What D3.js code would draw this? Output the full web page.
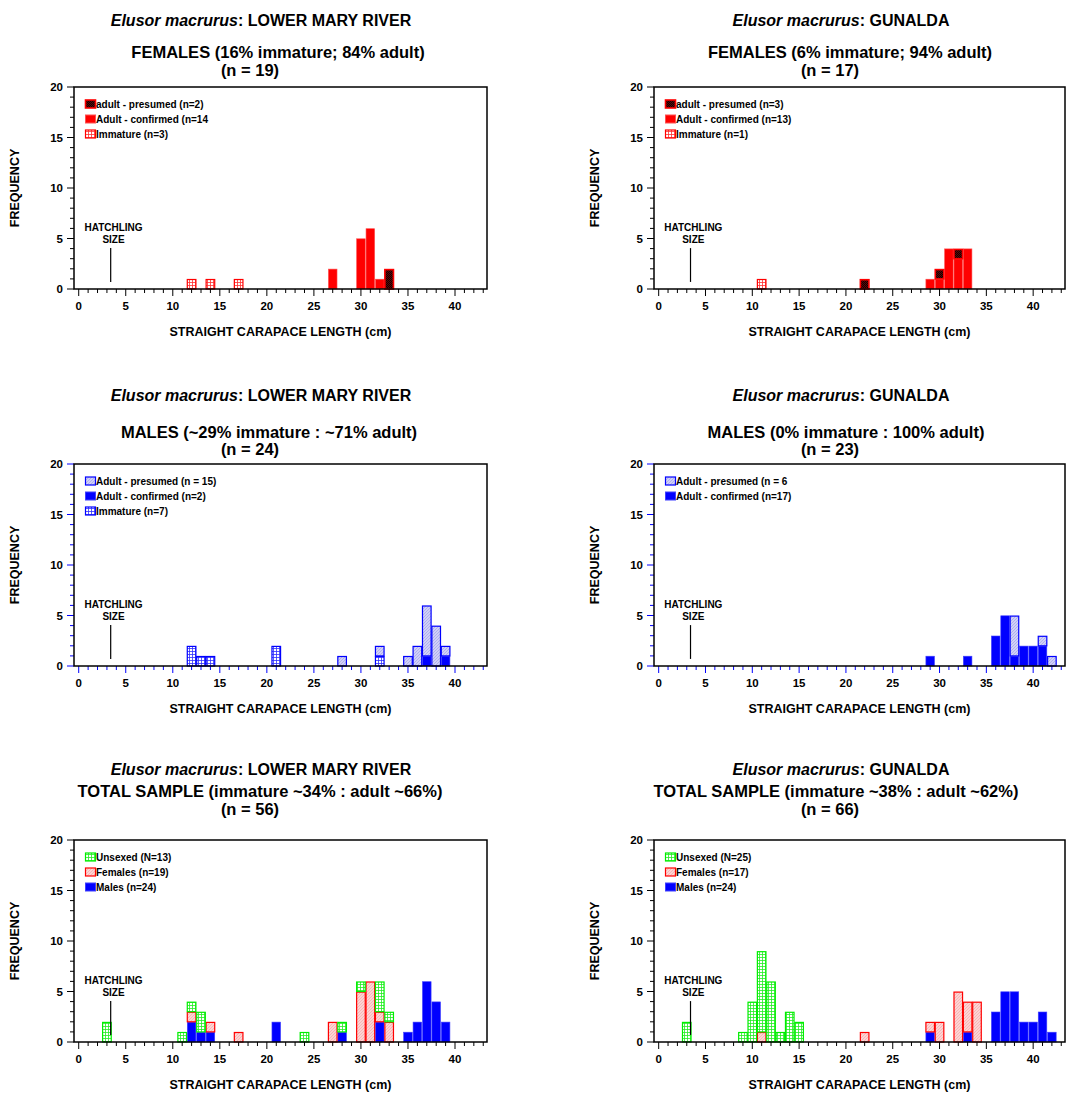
<!DOCTYPE HTML>
<html>
  <head>
    <title>Elusor macrurus size frequency</title>
    <style>
      body { margin: 0; background: #fff; }
      text { font-family: Arial, 'Liberation Sans', sans-serif; font-weight: bold; fill: #000; }
    </style>
  </head>
  <body>
    <script src="https://cdn.jsdelivr.net/npm/d3@7"></script>
    <script>
      // ---- data: [length (cm), count] ----
      var lmrFemImm  = [[12,1],[14,1],[17,1]];
      var lmrFemConf = [[27,2],[30,5],[31,6],[32,1]];
      var lmrFemPres = [[33,2]];

      var gunFemImm  = [[11,1]];
      var gunFemConf = [[29,1],[30,1],[31,4],[32,3],[33,4]];
      var gunFemPres = [[22,1],[30,1],[32,1]];

      var lmrMaleImm  = [[12,2],[13,1],[14,1],[21,2],[32,1]];
      var lmrMaleConf = [[37,1],[39,1]];
      var lmrMalePres = [[28,1],[32,1],[35,1],[36,2],[37,5],[38,4],[39,1]];

      var gunMaleConf = [[29,1],[33,1],[36,3],[37,5],[38,1],[39,2],[40,2],[41,2]];
      var gunMalePres = [[38,4],[41,1],[42,1]];

      var lmrTotMales   = [[12,2],[13,1],[14,1],[21,2],[28,1],[32,2],[35,1],[36,2],[37,6],[38,4],[39,2]];
      var lmrTotFemales = [[12,1],[14,1],[17,1],[27,2],[30,5],[31,6],[32,1],[33,2]];
      var lmrTotUnsexed = [[3,2],[11,1],[12,1],[13,2],[24,1],[28,1],[30,1],[32,3],[33,1]];

      var gunTotMales   = [[29,1],[33,1],[36,3],[37,5],[38,5],[39,2],[40,2],[41,3],[42,1]];
      var gunTotFemales = [[11,1],[22,1],[29,1],[30,2],[32,5],[33,3],[34,4]];
      var gunTotUnsexed = [[3,2],[9,1],[10,4],[11,8],[12,6],[13,1],[14,3],[15,2]];

      var xTicks = d3.range(0, 44);
      var xMajor = [0, 5, 10, 15, 20, 25, 30, 35, 40];
      var yTicks = d3.range(0, 21);
      var yMajor = [0, 5, 10, 15, 20];
      var hatchlingSize = 3.4;

      // ---- layout ----
      var width = 1067, height = 1093;
      var cols = [{x0: 74, x1: 487}, {x0: 654, x1: 1065}];
      var rows = [
        {top: 87,  bottom: 289, title: 26,  sub: 58,  n: 76},
        {top: 464, bottom: 666, title: 401, sub: 438, n: 455},
        {top: 840, bottom: 1042, title: 775, sub: 797, n: 815}
      ];

      var panels = [
        {col: 0, row: 0, site: 'LOWER MARY RIVER', sub: 'FEMALES (16% immature; 84% adult)', subCx: 278, n: '(n = 19)', tick: '#000',
          series: [
            {data: lmrFemImm,  style: 'immF',  label: 'Immature (n=3)'},
            {data: lmrFemConf, style: 'confF', label: 'Adult - confirmed (n=14'},
            {data: lmrFemPres, style: 'presF', label: 'adult - presumed (n=2)'}]},
        {col: 1, row: 0, site: 'GUNALDA', sub: 'FEMALES (6% immature; 94% adult)', subCx: 850, n: '(n = 17)', tick: '#000',
          series: [
            {data: gunFemImm,  style: 'immF',  label: 'Immature (n=1)'},
            {data: gunFemConf, style: 'confF', label: 'Adult - confirmed (n=13)'},
            {data: gunFemPres, style: 'presF', label: 'adult - presumed (n=3)'}]},
        {col: 0, row: 1, site: 'LOWER MARY RIVER', sub: 'MALES (~29% immature : ~71% adult)', subCx: 269, n: '(n = 24)', tick: '#0000ff',
          series: [
            {data: lmrMaleImm,  style: 'immM',  label: 'Immature (n=7)'},
            {data: lmrMaleConf, style: 'confM', label: 'Adult - confirmed (n=2)'},
            {data: lmrMalePres, style: 'presM', label: 'Adult - presumed (n = 15)'}]},
        {col: 1, row: 1, site: 'GUNALDA', sub: 'MALES (0% immature : 100% adult)', subCx: 846, n: '(n = 23)', tick: '#0000ff',
          series: [
            {data: gunMaleConf, style: 'confM', label: 'Adult - confirmed (n=17)'},
            {data: gunMalePres, style: 'presM', label: 'Adult - presumed (n = 6'}]},
        {col: 0, row: 2, site: 'LOWER MARY RIVER', sub: 'TOTAL SAMPLE (immature ~34% : adult ~66%)', subCx: 260, n: '(n = 56)', tick: '#000',
          series: [
            {data: lmrTotMales,   style: 'confM', label: 'Males (n=24)'},
            {data: lmrTotFemales, style: 'femT',  label: 'Females (n=19)'},
            {data: lmrTotUnsexed, style: 'unsex', label: 'Unsexed (N=13)'}]},
        {col: 1, row: 2, site: 'GUNALDA', sub: 'TOTAL SAMPLE (immature ~38% : adult ~62%)', subCx: 836, n: '(n = 66)', tick: '#000',
          series: [
            {data: gunTotMales,   style: 'confM', label: 'Males (n=24)'},
            {data: gunTotFemales, style: 'femT',  label: 'Females (n=17)'},
            {data: gunTotUnsexed, style: 'unsex', label: 'Unsexed (N=25)'}]}
      ];

      var styles = {
        immF:  {fill: 'url(#gridRed)',   stroke: '#ff0000', sw: 1.2},
        confF: {fill: '#ff0000',         stroke: '#ff5050', sw: 0.6},
        presF: {fill: 'url(#darkRed)',   stroke: '#ff0000', sw: 1.6},
        immM:  {fill: 'url(#gridBlue)',  stroke: '#0000ff', sw: 1.2},
        confM: {fill: '#0000ff',         stroke: '#4040ff', sw: 0.6},
        presM: {fill: 'url(#hatchBlue)', stroke: '#0000ff', sw: 1.2},
        femT:  {fill: 'url(#hatchPink)', stroke: '#ff0000', sw: 1.2},
        unsex: {fill: 'url(#gridGreen)', stroke: '#00ee00', sw: 1.2}
      };

      var svg = d3.select('body').append('svg')
          .attr('width', width)
          .attr('height', height);

      // ---- fill patterns ----
      var defs = svg.append('defs');
      function gridPattern(id, color) {
        var p = defs.append('pattern').attr('id', id)
            .attr('patternUnits', 'userSpaceOnUse').attr('width', 3).attr('height', 3);
        p.append('rect').attr('width', 3).attr('height', 3).attr('fill', '#fff');
        p.append('path').attr('d', 'M0,0.5H3M0.5,0V3').attr('stroke', color).attr('stroke-width', 0.8);
      }
      gridPattern('gridRed', '#ff3030');
      gridPattern('gridBlue', '#3030ff');
      gridPattern('gridGreen', '#22ee22');

      function hatchPattern(id, bg, line) {
        var p = defs.append('pattern').attr('id', id)
            .attr('patternUnits', 'userSpaceOnUse').attr('width', 3).attr('height', 3);
        p.append('rect').attr('width', 3).attr('height', 3).attr('fill', bg);
        p.append('path').attr('d', 'M0,3L3,0M-1,1L1,-1M2,4L4,2').attr('stroke', line).attr('stroke-width', 0.6);
      }
      hatchPattern('hatchBlue', '#d0d0f6', '#9898ea');
      hatchPattern('hatchPink', '#fcd4d4', '#f4a0a0');

      var dr = defs.append('pattern').attr('id', 'darkRed')
          .attr('patternUnits', 'userSpaceOnUse').attr('width', 2).attr('height', 2);
      dr.append('rect').attr('width', 2).attr('height', 2).attr('fill', '#5a0808');
      dr.append('rect').attr('width', 1).attr('height', 1).attr('fill', '#140000');
      dr.append('rect').attr('x', 1).attr('y', 1).attr('width', 1).attr('height', 1).attr('fill', '#140000');

      // ---- panels ----
      panels.forEach(function(p) {
        var c = cols[p.col], r = rows[p.row];
        var x = d3.scaleLinear().domain([-0.5, 43.4]).range([c.x0, c.x1]);
        var y = d3.scaleLinear().domain([0, 20]).range([r.bottom, r.top]);
        var g = svg.append('g');

        // titles
        var t = g.append('text')
            .attr('x', c.x0 + 187).attr('y', r.title)
            .attr('text-anchor', 'middle').style('font-size', '16px');
        t.append('tspan').style('font-style', 'italic').text('Elusor macrurus');
        t.append('tspan').text(': ' + p.site);
        g.append('text').attr('x', p.subCx).attr('y', r.sub)
            .attr('text-anchor', 'middle').style('font-size', '16.5px').text(p.sub);
        g.append('text').attr('x', c.x0 + 176).attr('y', r.n)
            .attr('text-anchor', 'middle').style('font-size', '16.5px').text(p.n);

        // stacked bars
        var base = {};
        p.series.forEach(function(s) {
          var st = styles[s.style];
          var rowsData = s.data.map(function(d) {
            var y0 = base[d[0]] || 0;
            base[d[0]] = y0 + d[1];
            return {len: d[0], y0: y0, y1: y0 + d[1]};
          });
          g.selectAll(null).data(rowsData).enter().append('rect')
              .attr('x', function(d) { return x(d.len - 0.5) + 0.4; })
              .attr('width', function(d) { return x(d.len + 0.5) - x(d.len - 0.5) - 0.8; })
              .attr('y', function(d) { return y(d.y1) + st.sw / 2; })
              .attr('height', function(d) { return y(d.y0) - y(d.y1) - st.sw / 2; })
              .attr('fill', st.fill)
              .attr('stroke', st.stroke)
              .attr('stroke-width', st.sw);
        });

        // legend (top of stack first)
        var leg = g.append('g').attr('transform', 'translate(' + (c.x0 + 11) + ',' + (r.top + 17) + ')');
        p.series.slice().reverse().forEach(function(s, i) {
          var st = styles[s.style];
          leg.append('rect').attr('x', 0.5).attr('y', i * 15 - 4)
              .attr('width', 10).attr('height', 8)
              .attr('fill', st.fill).attr('stroke', st.stroke).attr('stroke-width', Math.max(st.sw, 1));
          leg.append('text').attr('x', 11).attr('y', i * 15 + 3.6)
              .style('font-size', '10px').text(s.label);
        });

        // hatchling marker
        g.append('line')
            .attr('x1', x(hatchlingSize)).attr('x2', x(hatchlingSize))
            .attr('y1', y(0.7)).attr('y2', y(4.05))
            .attr('stroke', '#000').attr('stroke-width', 1.2);
        g.append('text').attr('x', x(3.7)).attr('y', y(5.75))
            .attr('text-anchor', 'middle').style('font-size', '10px').text('HATCHLING');
        g.append('text').attr('x', x(3.7)).attr('y', y(4.55))
            .attr('text-anchor', 'middle').style('font-size', '10px').text('SIZE');

        // x axis ticks
        g.selectAll(null).data(xTicks).enter().append('line')
            .attr('x1', function(d) { return x(d); }).attr('x2', function(d) { return x(d); })
            .attr('y1', r.bottom)
            .attr('y2', function(d) { return r.bottom + (xMajor.indexOf(d) >= 0 ? 7 : 4); })
            .attr('stroke', p.tick).attr('stroke-width', 1);
        g.selectAll(null).data(xMajor).enter().append('text')
            .attr('x', function(d) { return x(d); }).attr('y', r.bottom + 21)
            .attr('text-anchor', 'middle').style('font-size', '11.5px')
            .text(function(d) { return d; });

        // y axis ticks
        g.selectAll(null).data(yTicks).enter().append('line')
            .attr('y1', function(d) { return y(d); }).attr('y2', function(d) { return y(d); })
            .attr('x1', c.x0)
            .attr('x2', function(d) { return c.x0 - (yMajor.indexOf(d) >= 0 ? 7 : 4); })
            .attr('stroke', p.tick).attr('stroke-width', 1);
        g.selectAll(null).data(yMajor).enter().append('text')
            .attr('x', c.x0 - 11).attr('y', function(d) { return y(d) + 4; })
            .attr('text-anchor', 'end').style('font-size', '11.5px')
            .text(function(d) { return d; });

        // frame
        g.append('rect')
            .attr('x', c.x0).attr('y', r.top)
            .attr('width', c.x1 - c.x0).attr('height', r.bottom - r.top)
            .attr('fill', 'none').attr('stroke', '#000').attr('stroke-width', 1.5);

        // axis titles
        g.append('text').attr('x', (c.x0 + c.x1) / 2).attr('y', r.bottom + 47)
            .attr('text-anchor', 'middle').style('font-size', '12.5px')
            .text('STRAIGHT CARAPACE LENGTH (cm)');
        g.append('text')
            .attr('transform', 'translate(' + (c.x0 - 55) + ',' + ((r.top + r.bottom) / 2) + ') rotate(-90)')
            .attr('text-anchor', 'middle').style('font-size', '12.5px')
            .text('FREQUENCY');
      });
    </script>
  </body>
</html>
